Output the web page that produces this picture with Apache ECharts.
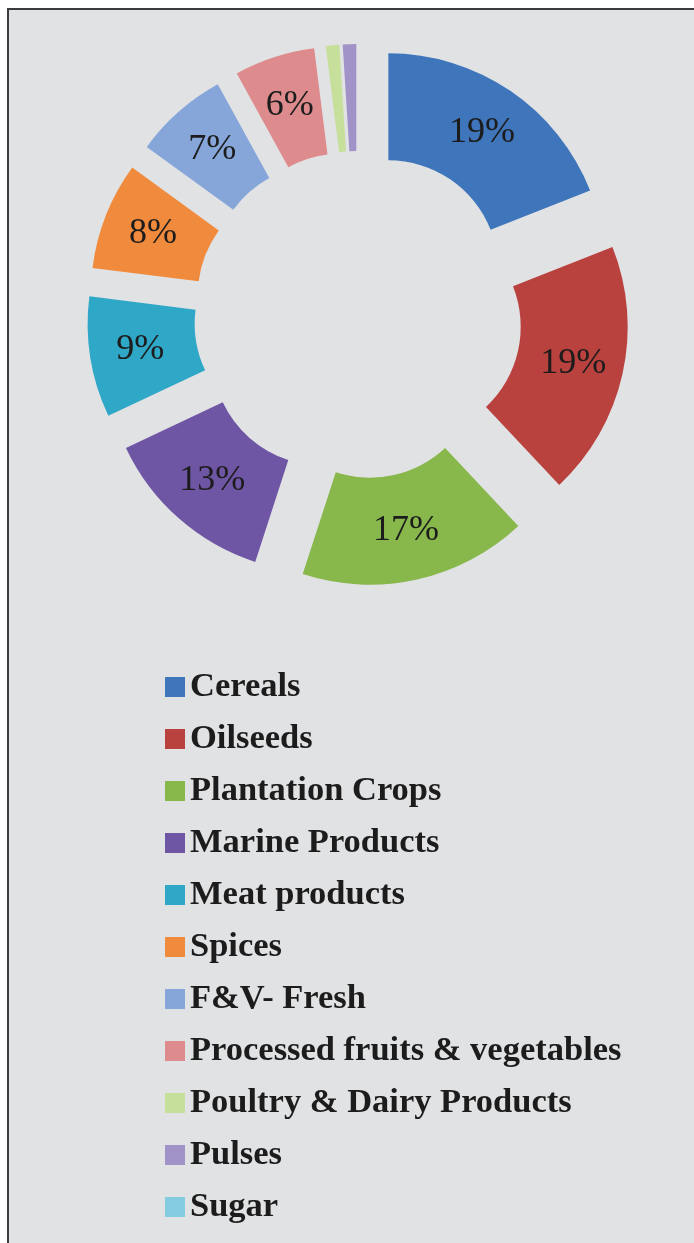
<!DOCTYPE html>
<html>
<head>
<meta charset="utf-8">
<script src="https://cdn.jsdelivr.net/npm/echarts@6/dist/echarts.min.js"></script>
<style>
  html, body { margin: 0; padding: 0; background: #ffffff; }
  #frame {
    position: absolute; left: 7px; top: 8px; width: 687px; height: 1235px;
    border-left: 2px solid #3c3c3c; border-top: 2px solid #3c3c3c;
    background: #e1e2e4;
  }
  #chart { position: absolute; left: 0; top: 0; width: 694px; height: 1243px; }
</style>
</head>
<body>
<div id="frame"></div>
<div id="chart"></div>
<script>
// Export share by product group (%)
const categories = [
  'Cereals', 'Oilseeds', 'Plantation Crops', 'Marine Products', 'Meat products',
  'Spices', 'F&V- Fresh', 'Processed fruits & vegetables',
  'Poultry & Dairy Products', 'Pulses', 'Sugar'
];
const shares = [19, 19, 17, 13, 9, 8, 7, 6, 1, 1, 0];
const colors = [
  '#3f76bb', '#b9423f', '#88b74b', '#6f56a4', '#2fa7c7',
  '#f08a3c', '#86a6da', '#de8b8d', '#c6e09b', '#a192c8', '#84cde0'
];

const chart = echarts.init(document.getElementById('chart'), null, { renderer: 'canvas' });

const data = categories.map((name, i) => ({
  name: name,
  value: shares[i],
  selected: true,
  itemStyle: { color: colors[i] },
  label: { show: shares[i] > 0 }
}));

chart.setOption({
  animation: false,
  backgroundColor: 'transparent',
  legend: {
    orient: 'vertical',
    left: 165,
    top: 668,
    padding: 0,
    icon: 'rect',
    itemWidth: 20,
    itemHeight: 20,
    itemGap: 14,
    selectedMode: false,
    data: categories,
    textStyle: {
      fontFamily: 'Liberation Serif',
      fontWeight: 'bold',
      fontSize: 34.5,
      lineHeight: 38,
      color: '#1c1c1c'
    }
  },
  series: [{
    type: 'pie',
    center: [358, 315],
    radius: [110, 217],
    startAngle: 90,
    clockwise: true,
    selectedMode: 'multiple',
    selectedOffset: 54,
    percentPrecision: 0,
    avoidLabelOverlap: false,
    emphasis: { disabled: true },
    select: { itemStyle: { borderWidth: 0 } },
    itemStyle: { borderWidth: 0 },
    label: {
      show: true,
      position: 'inside',
      formatter: '{d}%',
      fontFamily: 'Liberation Serif',
      fontSize: 36,
      color: '#1c1c1c'
    },
    labelLine: { show: false },
    data: data
  }]
});
</script>
</body>
</html>
